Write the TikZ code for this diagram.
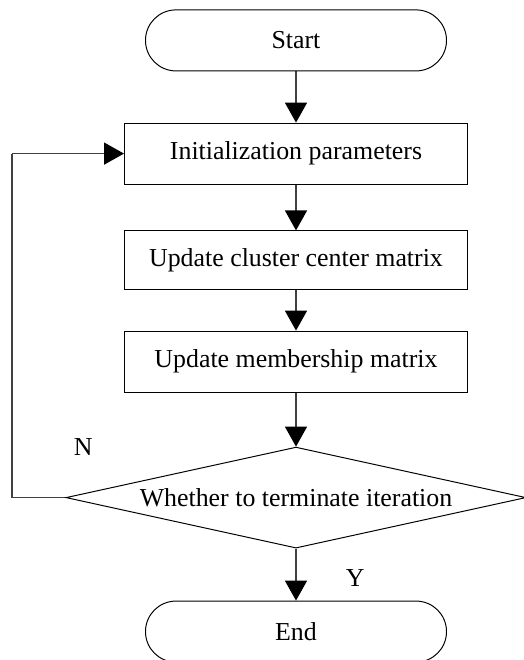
\documentclass[tikz,border=0pt]{standalone}
\usepackage{fontspec}
\setmainfont{Liberation Serif}
\usetikzlibrary{shapes.geometric,arrows.meta}
\tikzstyle{terminal}=[rectangle,rounded corners=0.76cm,draw=black,line width=0.7pt,minimum width=7.525cm,minimum height=1.525cm,font=\fontsize{18.4}{22}\selectfont]
\tikzstyle{process}=[rectangle,draw=black,line width=0.7pt,minimum width=8.575cm,minimum height=1.525cm,font=\fontsize{18.4}{22}\selectfont]
\tikzstyle{decision}=[diamond,aspect=4.55,draw=black,line width=0.7pt,inner sep=0pt,minimum width=11.5cm,minimum height=2.525cm,font=\fontsize{18.4}{22}\selectfont]
\tikzstyle{inarrow}=[-{Triangle[length=0.5cm,width=0.55cm,color=black]},draw=black!75,line width=1.1pt]
\tikzstyle{simple}=[-,draw=black!75,line width=1.1pt]
\tikzstyle{none}=[inner sep=0pt]
\tikzstyle{empty}=[circle,fill=none,draw=none,font=\fontsize{18.4}{22}\selectfont]
\pgfdeclarelayer{edgelayer}
\pgfdeclarelayer{nodelayer}
\pgfsetlayers{edgelayer,nodelayer,main}
\begin{document}
\begin{tikzpicture}
	\useasboundingbox (0,0) rectangle (13.1,16.5);
	\begin{pgfonlayer}{nodelayer}
		\node [style=terminal] (start) at (7.4, 15.49) {Start};
		\node [style=process] (init) at (7.4, 12.66) {Initialization parameters};
		\node [style=process, minimum height=1.475cm] (center) at (7.4, 9.99) {Update cluster center matrix};
		\node [style=process] (member) at (7.4, 7.46) {Update membership matrix};
		\node [style=decision] (stop) at (7.4, 4.06) {Whether to terminate iteration};
		\node [style=terminal] (end) at (7.4, 0.71) {End};

		\node [style=none] (Ltop) at (0.3, 12.66) {};
		\node [style=none] (Lbot) at (0.3, 4.06) {};

		\node [style=empty] (N) at (2.08, 5.33) {N};
		\node [style=empty] (Y) at (8.88, 2.05) {Y};
	\end{pgfonlayer}
	\begin{pgfonlayer}{edgelayer}
		\draw [style=inarrow] (start) to (init);
		\draw [style=inarrow] (init) to (center);
		\draw [style=inarrow] (center) to (member);
		\draw [style=inarrow] (member) to (stop);
		\draw [style=inarrow] (stop) to (end);
		\draw [style=simple] (stop.west) to (Lbot.center);
		\draw [style=simple] (Lbot.center) to (Ltop.center);
		\draw [style=inarrow] (Ltop.center) to (init.west);
	\end{pgfonlayer}
\end{tikzpicture}
\end{document}
